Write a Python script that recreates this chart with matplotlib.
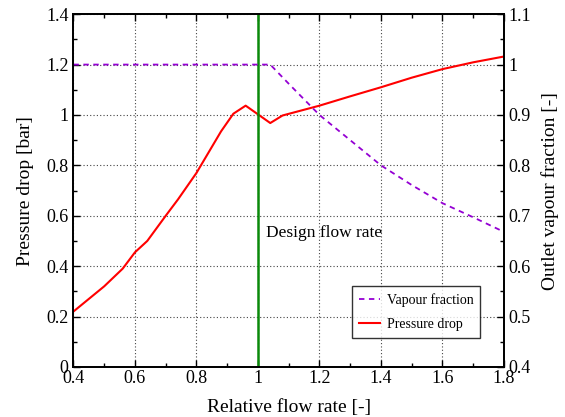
import matplotlib
matplotlib.use("Agg")
import matplotlib.pyplot as plt
from matplotlib.ticker import MultipleLocator, FuncFormatter

plt.rcParams['font.family'] = ['Liberation Serif', 'DejaVu Serif']

# Pressure drop data
pd_x = [0.4, 0.5, 0.56, 0.6, 0.64, 0.7, 0.74, 0.8, 0.88, 0.92, 0.96, 1.04, 1.08, 1.2, 1.3, 1.4, 1.5, 1.6, 1.7, 1.8]
pd_y = [0.22, 0.32, 0.39, 0.455, 0.5, 0.60, 0.665, 0.77, 0.935, 1.005, 1.037, 0.968, 0.998, 1.037, 1.074, 1.11, 1.148, 1.182, 1.209, 1.232]

# Vapour fraction data
vf_x = [0.4, 1.04, 1.1, 1.2, 1.3, 1.4, 1.5, 1.6, 1.7, 1.8]
vf_y = [1.0, 1.0, 0.962, 0.9, 0.85, 0.80, 0.761, 0.725, 0.697, 0.668]

design_x = 1.0

fmt = FuncFormatter(lambda v, p: f"{v:g}")

fig = plt.figure(figsize=(5.65, 4.17), dpi=100)
ax = fig.add_axes([0.130, 0.120, 0.762, 0.846])
ax2 = ax.twinx()

l1, = ax2.plot(vf_x, vf_y, color='#9400D3', lw=1.3, ls=(0, (3, 2.5)), label='Vapour fraction')
l2, = ax.plot(pd_x, pd_y, color='red', lw=1.5, label='Pressure drop')
ax.axvline(design_x, color='#0a8a0a', lw=1.8)
ax.text(1.025, 0.53, 'Design flow rate', fontsize=12.5, va='center', ha='left')

ax.set_xlim(0.4, 1.8)
ax.set_ylim(0, 1.4)
ax2.set_ylim(0.4, 1.1)

ax.xaxis.set_major_locator(MultipleLocator(0.2))
ax.xaxis.set_minor_locator(MultipleLocator(0.1))
ax.yaxis.set_major_locator(MultipleLocator(0.2))
ax.yaxis.set_minor_locator(MultipleLocator(0.1))
ax2.yaxis.set_major_locator(MultipleLocator(0.1))
ax2.yaxis.set_minor_locator(MultipleLocator(0.05))
ax.xaxis.set_major_formatter(fmt)
ax.yaxis.set_major_formatter(fmt)
ax2.yaxis.set_major_formatter(fmt)

ax.tick_params(axis='both', which='both', direction='in', labelsize=13, top=True)
ax.tick_params(which='major', length=5, width=1)
ax.tick_params(which='minor', length=3, width=1)
ax.tick_params(axis='y', which='both', right=False)
ax.tick_params(axis='x', which='major', pad=2)
ax2.tick_params(axis='y', which='both', direction='in', labelsize=13)
ax2.tick_params(which='major', length=5, width=1)
ax2.tick_params(which='minor', length=3, width=1)

ax.grid(True, which='major', color='#444444', ls=(0, (1, 2)), lw=0.8)

for a in (ax, ax2):
    for s in a.spines.values():
        s.set_linewidth(1.3)

ax.set_xlabel('Relative flow rate [-]', fontsize=14, labelpad=9)
ax.set_ylabel('Pressure drop [bar]', fontsize=14, labelpad=9)
ax2.set_ylabel('Outlet vapour fraction [-]', fontsize=14, labelpad=7)

leg = fig.legend([l1, l2], ['Vapour fraction', 'Pressure drop'],
                 loc='upper left', bbox_to_anchor=(352/565, 1 - 286/417),
                 fontsize=10, frameon=True, fancybox=False, edgecolor='black',
                 handlelength=1.5, handletextpad=0.5, borderpad=0.5,
                 labelspacing=0.8, borderaxespad=0)
leg.get_frame().set_linewidth(1.0)

fig.savefig('out.png', dpi=100)
